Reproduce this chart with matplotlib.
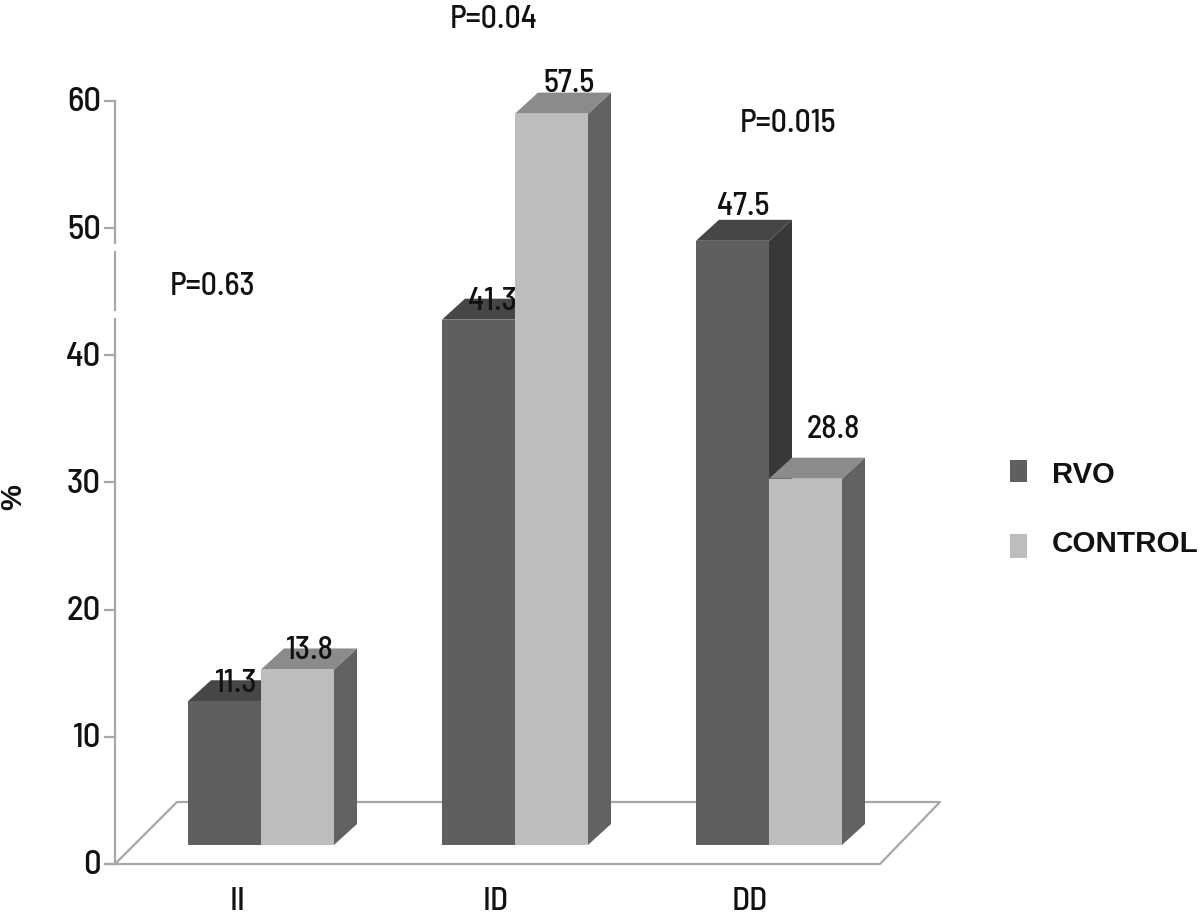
import matplotlib
matplotlib.use('Agg')
import matplotlib.pyplot as plt
from matplotlib.patches import Polygon, Rectangle

categories = ['II', 'ID', 'DD']
rvo = [11.3, 41.3, 47.5]
control = [13.8, 57.5, 28.8]
y_ticks = [0, 10, 20, 30, 40, 50, 60]
p_labels = ['P=0.63', 'P=0.04', 'P=0.015']

W, H = 1200, 915
PX_X = 254.0    # pixels per category
PX_Y = 12.72    # pixels per percent
X0, Y0 = 188, 864   # pixel position of first bar left, value 0

bar_w = 73 / PX_X
dep_x = 23 / PX_X
dep_y = 21 / PX_Y
base = 19 / PX_Y

NARROW = ['Barlow Semi Condensed', 'Liberation Sans']
GRAY = '#a8a8a8'

fig = plt.figure(figsize=(W / 100, H / 100), dpi=100)
ax = fig.add_axes([0, 0, 1, 1])
ax.set_xlim(-X0 / PX_X, (W - X0) / PX_X)
ax.set_ylim((Y0 - H) / PX_Y, Y0 / PX_Y)
ax.axis('off')


def cx(px):
    return (px - X0) / PX_X


def vy(py):
    return (Y0 - py) / PX_Y


def bar3d(x, val, front, top, side):
    ax.add_patch(Polygon([(x + bar_w, base), (x + bar_w + dep_x, base + dep_y),
                          (x + bar_w + dep_x, val + base + dep_y), (x + bar_w, val + base)],
                         fc=side, ec='none', zorder=3))
    ax.add_patch(Polygon([(x, val + base), (x + dep_x, val + base + dep_y),
                          (x + bar_w + dep_x, val + base + dep_y), (x + bar_w, val + base)],
                         fc=top, ec='none', zorder=3))
    ax.add_patch(Rectangle((x, base), bar_w, val, fc=front, ec='none', zorder=3))


# axis line with the two white gaps
for a, b in [(60, vy(243)), (vy(252), vy(310)), (vy(319), 0)]:
    ax.plot([cx(115), cx(115)], [a, b], color=GRAY, lw=1.6, zorder=1)
for t in y_ticks:
    ax.plot([cx(105), cx(115)], [t, t], color=GRAY, lw=1.6, zorder=1)
    ax.text(cx(101), t - 2 / PX_Y, str(t), ha='right', va='center', fontsize=25, family=NARROW,
            fontweight=500, color='#111111')

# floor
ax.plot([cx(106), cx(880), cx(940), cx(177), cx(115)],
        [0, 0, vy(802), vy(802), 0], color=GRAY, lw=1.6, zorder=1)

for i in range(len(categories)):
    bar3d(i, rvo[i], '#5f5f5f', '#464646', '#383838')
    bar3d(i + bar_w, control[i], '#bdbdbd', '#8b8b8b', '#626262')

# value labels sit a bit differently on every bar
rvo_off = [(48, 18), (50, 18), (47, 34)]
ctl_off = [(49, 19), (54, 30), (64, 49)]
for i in range(len(categories)):
    ax.text(i + rvo_off[i][0] / PX_X, rvo[i] + base + rvo_off[i][1] / PX_Y, str(rvo[i]),
            ha='center', va='center', fontsize=23, family=NARROW, fontweight=500, color='#111111', zorder=5)
    ax.text(i + bar_w + ctl_off[i][0] / PX_X, control[i] + base + ctl_off[i][1] / PX_Y, str(control[i]),
            ha='center', va='center', fontsize=23, family=NARROW, fontweight=500, color='#111111', zorder=5)

cat_px = [238, 496, 750]
for lab, px in zip(categories, cat_px):
    ax.text(cx(px), vy(901), lab, ha='center', va='center', fontsize=24, family=NARROW,
            fontweight=500, color='#111111')

p_pos = [(213, 286), (494, 19), (788, 123)]
for lab, (px, py) in zip(p_labels, p_pos):
    ax.text(cx(px), vy(py), lab, ha='center', va='center', fontsize=23, family=NARROW,
            fontweight=500, color='#111111')

ax.text(cx(13), vy(497), '%', rotation=90, ha='center', va='center', fontsize=21,
        fontweight='bold', family='Liberation Sans', color='#111111')

# legend
ax.add_patch(Rectangle((cx(1010), vy(482)), 17 / PX_X, 22 / PX_Y, fc='#5f5f5f', ec='none'))
ax.add_patch(Rectangle((cx(1010), vy(558)), 17 / PX_X, 24 / PX_Y, fc='#bdbdbd', ec='none'))
ax.text(cx(1052), vy(475), 'RVO', ha='left', va='center', fontsize=21, fontweight='bold',
        family='Liberation Sans', color='#111111')
ax.text(cx(1052), vy(544), 'CONTROL', ha='left', va='center', fontsize=21.3, fontweight='bold',
        family='Liberation Sans', color='#111111')

fig.savefig('out.png', dpi=100, facecolor='white')
